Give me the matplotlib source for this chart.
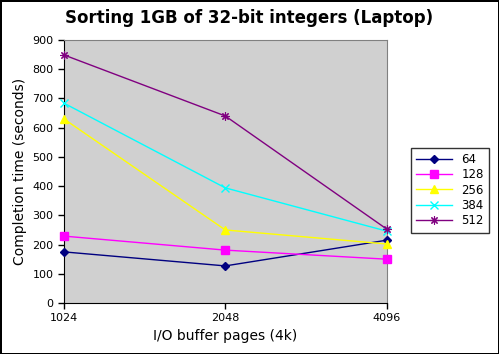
import numpy as np
import matplotlib.pyplot as plt
import matplotlib.ticker as ticker

# Buffer pages (categorical axis) and completion times per series
buffer_pages = ['1024', '2048', '4096']
series_names = ['64', '128', '256', '384', '512']
t_64 = [175, 127, 215]
t_128 = [229, 181, 150]
t_256 = [630, 250, 202]
t_384 = [684, 394, 246]
t_512 = [849, 640, 253]

styles = [
    dict(color='#000080', marker='D', ms=4),
    dict(color='#ff00ff', marker='s', ms=5.5),
    dict(color='#ffff00', marker='^', ms=6),
    dict(color='#00ffff', marker='x', ms=6, mew=1),
    dict(color='#800080', marker=(8, 2, 0), ms=6, mew=0.8),
]

fig = plt.figure(figsize=(4.99, 3.54), dpi=100, linewidth=1, edgecolor='black')
ax = fig.add_axes([0.128, 0.144, 0.647, 0.743])
ax.set_facecolor('#d0d0d0')

x = np.arange(len(buffer_pages))
for name, vals, st in zip(series_names, [t_64, t_128, t_256, t_384, t_512], styles):
    ax.plot(x, vals, lw=1, label=name, clip_on=False, zorder=3, **st)

ax.set_xlim(0, len(buffer_pages) - 1)
ax.set_xticks(x)
ax.set_xticklabels(buffer_pages)
ax.set_ylim(0, 900)
ax.yaxis.set_major_locator(ticker.MultipleLocator(100))
ax.tick_params(labelsize=8, direction='out', length=4, width=1)

for side in ['top', 'right']:
    ax.spines[side].set_color('#808080')
for side in ['left', 'bottom']:
    ax.spines[side].set_color('black')

ax.set_xlabel('I/O buffer pages (4k)', fontsize=10)
ax.set_ylabel('Completion time (seconds)', fontsize=10)
fig.suptitle('Sorting 1GB of 32-bit integers (Laptop)', fontsize=12,
             fontweight='bold', y=0.975)

leg = fig.legend(loc='center left', bbox_to_anchor=(0.812, 0.463), fontsize=8.5,
                 frameon=True, fancybox=False, edgecolor='black',
                 handlelength=3.0, borderpad=0.45, labelspacing=0.2)
leg.get_frame().set_linewidth(1)

fig.savefig('out.png', dpi=100, edgecolor=fig.get_edgecolor())
